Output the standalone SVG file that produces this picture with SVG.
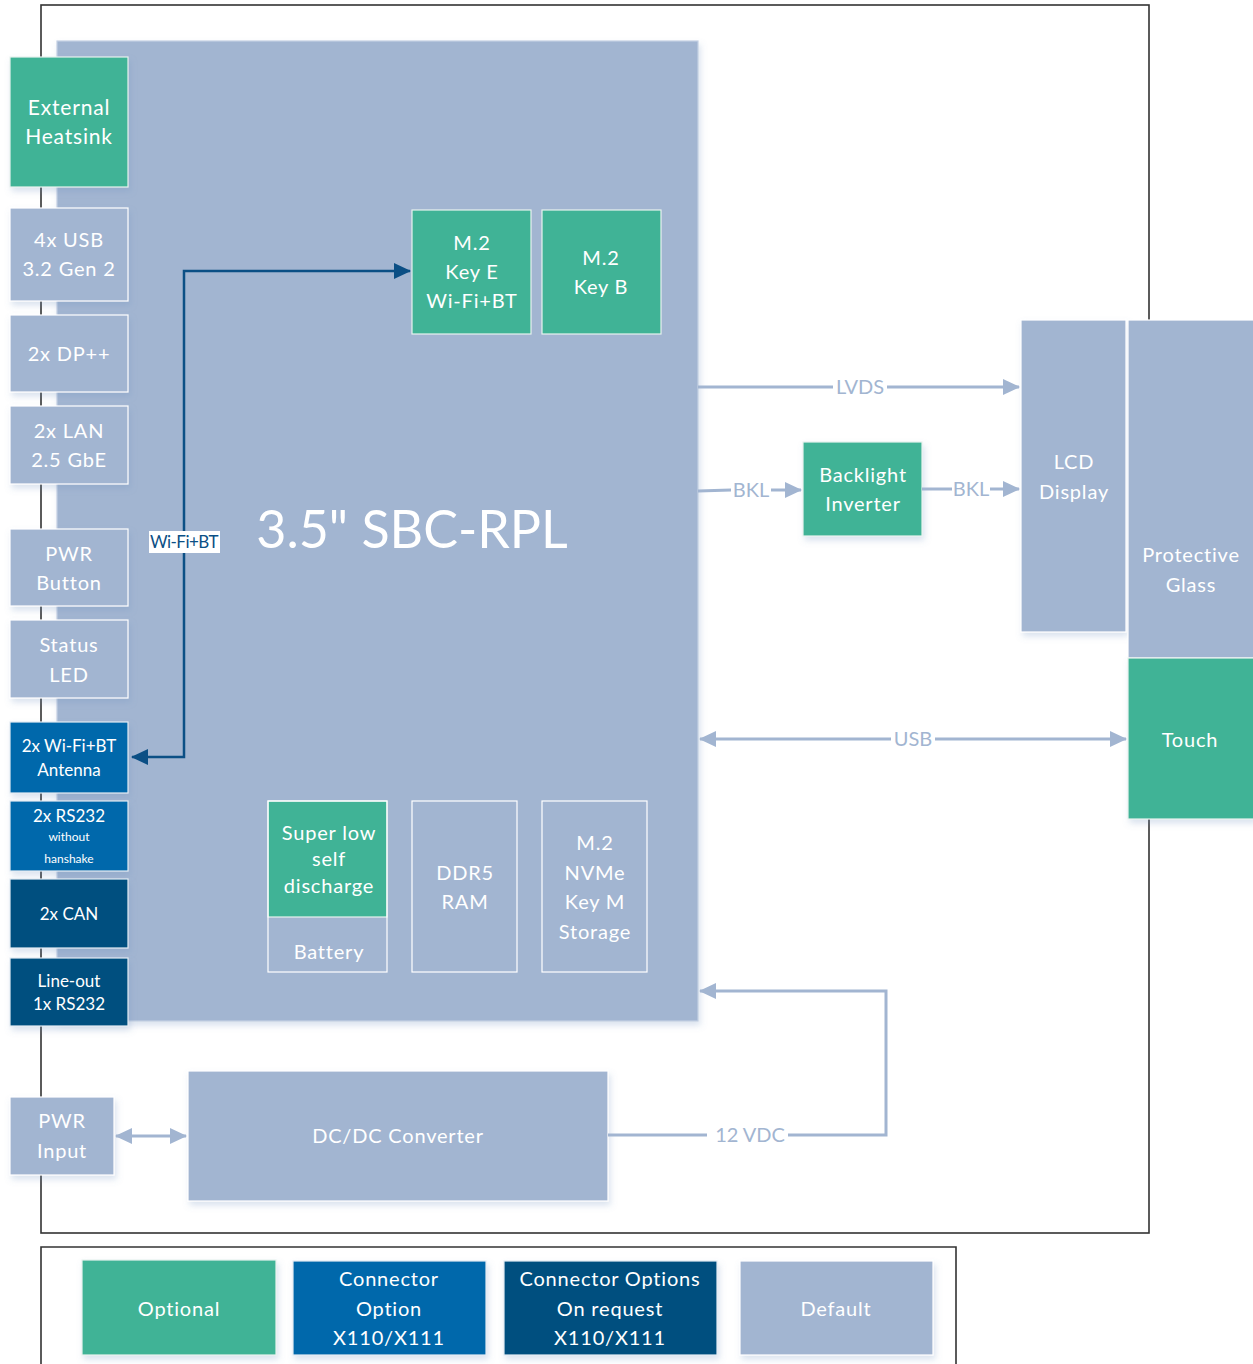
<svg xmlns="http://www.w3.org/2000/svg" width="1253" height="1364" viewBox="0 0 1253 1364" font-size="20">
<style>
text{font-family:"Lato","Open Sans","Liberation Sans",sans-serif;fill:#ffffff;text-anchor:middle;letter-spacing:0.8px}
.sm,.lbl,.ttl{letter-spacing:0}
.def{fill:#a2b5d1;stroke:#ffffff;stroke-width:1.2}
.opt{fill:#40b396;stroke:#e8f2ee;stroke-width:1.2}
.med{fill:#0068ab;stroke:#e3ecf4;stroke-width:1.2}
.drk{fill:#00507f;stroke:#e3ecf4;stroke-width:1.2}
.in{fill:none;stroke:#ffffff;stroke-width:1.2}
.ln{fill:none;stroke:#a2b5d1;stroke-width:3}
.lbl{fill:#a2b5d1}
.frame{fill:none;stroke:#333333;stroke-width:1.6}
</style>
<defs>
<filter id="sh" x="-10%" y="-10%" width="130%" height="130%">
<feDropShadow dx="2" dy="4" stdDeviation="3" flood-color="#6f8fbf" flood-opacity="0.25"/>
</filter>
<marker id="ahl" markerWidth="17" markerHeight="16" refX="16" refY="8" orient="auto-start-reverse" markerUnits="userSpaceOnUse" viewBox="0 0 17 16">
<path d="M0,0 L17,8 L0,16 z" fill="#a2b5d1"/>
</marker>
<marker id="ahb" markerWidth="17" markerHeight="16" refX="16" refY="8" orient="auto-start-reverse" markerUnits="userSpaceOnUse" viewBox="0 0 17 16">
<path d="M0,0 L17,8 L0,16 z" fill="#0b4f85"/>
</marker>
</defs>
<rect width="1253" height="1364" fill="#ffffff"/>
<rect class="frame" x="41" y="5" width="1108" height="1228"/>
<path class="frame" d="M41,1364 L41,1247 L956,1247 L956,1364"/>

<g id="sbc">
<rect x="57" y="41" width="641" height="980" fill="#a2b5d1" stroke="#c3d0e3" stroke-width="1.2" filter="url(#sh)"/>
<text class="ttl" x="412" y="548" font-size="52">3.5" SBC-RPL</text>
</g>

<g id="ext-heatsink"><rect class="opt" x="10" y="57" width="118" height="130" filter="url(#sh)"/><text x="69" y="115" font-size="21">External</text><text x="69" y="144" font-size="21">Heatsink</text></g>
<g id="usb"><rect class="def" x="10" y="208" width="118" height="93" filter="url(#sh)"/><text x="69" y="247">4x USB</text><text x="69" y="276">3.2 Gen 2</text></g>
<g id="dp"><rect class="def" x="10" y="315" width="118" height="77" filter="url(#sh)"/><text x="69" y="361">2x DP++</text></g>
<g id="lan"><rect class="def" x="10" y="406" width="118" height="78" filter="url(#sh)"/><text x="69" y="438">2x LAN</text><text x="69" y="467">2.5 GbE</text></g>
<g id="pwr-button"><rect class="def" x="10" y="529" width="118" height="77" filter="url(#sh)"/><text x="69" y="561">PWR</text><text x="69" y="590">Button</text></g>
<g id="status-led"><rect class="def" x="10" y="620" width="118" height="78" filter="url(#sh)"/><text x="69" y="652">Status</text><text x="69" y="682">LED</text></g>
<g id="antenna"><rect class="med" x="10" y="722" width="118" height="71" filter="url(#sh)"/><text class="sm" x="69" y="752" font-size="17">2x Wi-Fi+BT</text><text class="sm" x="69" y="776" font-size="17">Antenna</text></g>
<g id="rs232"><rect class="med" x="10" y="801" width="118" height="70" filter="url(#sh)"/><text class="sm" x="69" y="822" font-size="17">2x RS232</text><text class="sm" x="69" y="841" font-size="12">without</text><text class="sm" x="69" y="863" font-size="12">hanshake</text></g>
<g id="can"><rect class="drk" x="10" y="879" width="118" height="69" filter="url(#sh)"/><text class="sm" x="69" y="920" font-size="17">2x CAN</text></g>
<g id="lineout"><rect class="drk" x="10" y="958" width="118" height="68" filter="url(#sh)"/><text class="sm" x="69" y="987" font-size="17">Line-out</text><text class="sm" x="69" y="1010" font-size="17">1x RS232</text></g>

<g id="m2-key-e"><rect class="opt" x="412" y="210" width="119" height="124" stroke="#ffffff"/><text x="472" y="250">M.2</text><text x="472" y="279">Key E</text><text x="472" y="308">Wi-Fi+BT</text></g>
<g id="m2-key-b"><rect class="opt" x="542" y="210" width="119" height="124" stroke="#ffffff"/><text x="601" y="265">M.2</text><text x="601" y="294">Key B</text></g>

<g id="battery"><rect class="opt" x="268" y="801" width="119" height="116" stroke="#ffffff"/><rect class="in" x="268" y="801" width="119" height="171"/><text x="329" y="840">Super low</text><text x="329" y="866">self</text><text x="329" y="893">discharge</text><text x="329" y="959">Battery</text></g>
<g id="ddr5"><rect class="in" x="412" y="801" width="105" height="171"/><text x="465" y="880">DDR5</text><text x="465" y="909">RAM</text></g>
<g id="nvme"><rect class="in" x="542" y="801" width="105" height="171"/><text x="595" y="850">M.2</text><text x="595" y="880">NVMe</text><text x="595" y="909">Key M</text><text x="595" y="939">Storage</text></g>

<g id="backlight"><rect class="opt" x="803" y="442" width="119" height="94" stroke="#d9e4ee" filter="url(#sh)"/><text x="863" y="482">Backlight</text><text x="863" y="511">Inverter</text></g>
<g id="lcd"><rect class="def" x="1021" y="320" width="105" height="312" filter="url(#sh)"/><text x="1074" y="469">LCD</text><text x="1074" y="499">Display</text></g>
<g id="glass"><rect class="def" x="1128" y="320" width="127" height="338"/><text x="1191" y="562">Protective</text><text x="1191" y="592">Glass</text></g>
<g id="touch"><rect class="opt" x="1128" y="658" width="127" height="161" stroke="#ffffff" filter="url(#sh)"/><text x="1190" y="747">Touch</text></g>

<g id="pwr-input"><rect class="def" x="10" y="1097" width="104" height="78" filter="url(#sh)"/><text x="62" y="1128">PWR</text><text x="62" y="1158">Input</text></g>
<g id="dcdc"><rect class="def" x="188" y="1071" width="420" height="130" stroke="#c3d0e3" filter="url(#sh)"/><text x="398" y="1143">DC/DC Converter</text></g>

<g id="connectors">
<path d="M132,757 L184,757 L184,271 L410,271" fill="none" stroke="#0b4f85" stroke-width="2.5" marker-start="url(#ahb)" marker-end="url(#ahb)"/>
<rect x="149" y="531" width="71" height="22" fill="#ffffff"/>
<text class="sm" x="184" y="548" font-size="17" style="fill:#0b4f85;letter-spacing:-0.5px">Wi-Fi+BT</text>

<line class="ln" x1="698" y1="387" x2="833" y2="387"/>
<line class="ln" x1="887" y1="387" x2="1019" y2="387" marker-end="url(#ahl)"/>
<text class="lbl" x="860" y="394">LVDS</text>

<line class="ln" x1="698" y1="491" x2="731" y2="490"/>
<line class="ln" x1="771" y1="490" x2="801" y2="490" marker-end="url(#ahl)"/>
<text class="lbl" x="751" y="497">BKL</text>

<line class="ln" x1="922" y1="489" x2="952" y2="489"/>
<line class="ln" x1="990" y1="489" x2="1019" y2="489" marker-end="url(#ahl)"/>
<text class="lbl" x="971" y="496">BKL</text>

<line class="ln" x1="700" y1="739" x2="891" y2="739" marker-start="url(#ahl)"/>
<line class="ln" x1="935" y1="739" x2="1126" y2="739" marker-end="url(#ahl)"/>
<text class="lbl" x="913" y="746">USB</text>

<line class="ln" x1="608" y1="1135" x2="707" y2="1135"/>
<path class="ln" d="M788,1135 L886,1135 L886,991 L700,991" marker-end="url(#ahl)"/>
<text class="lbl" x="750" y="1142">12 VDC</text>

<line class="ln" x1="116" y1="1136" x2="186" y2="1136" marker-start="url(#ahl)" marker-end="url(#ahl)"/>
</g>

<g id="legend">
<g id="legend-optional"><rect class="opt" x="82" y="1260" width="194" height="95" filter="url(#sh)"/><text x="179" y="1316">Optional</text></g>
<g id="legend-option"><rect class="med" x="293" y="1261" width="193" height="94" filter="url(#sh)"/><text x="389" y="1286">Connector</text><text x="389" y="1316">Option</text><text x="389" y="1345">X110/X111</text></g>
<g id="legend-request"><rect class="drk" x="504" y="1261" width="213" height="94" filter="url(#sh)"/><text x="610" y="1286">Connector Options</text><text x="610" y="1316">On request</text><text x="610" y="1345">X110/X111</text></g>
<g id="legend-default"><rect class="def" x="740" y="1261" width="193" height="94" stroke="#d9e2ee" filter="url(#sh)"/><text x="836" y="1316">Default</text></g>
</g>
</svg>
